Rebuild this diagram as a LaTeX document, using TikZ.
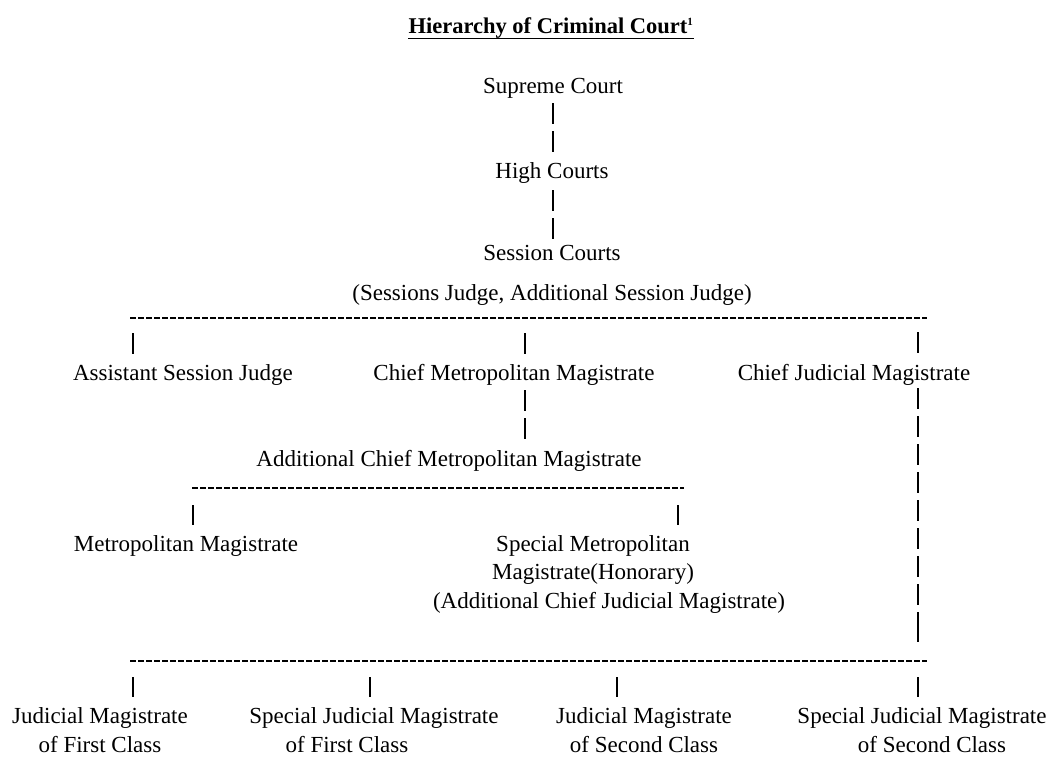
\documentclass[tikz,border=0pt]{standalone}
\usepackage{fontspec}
\setmainfont{Liberation Serif}
\begin{document}
\begin{tikzpicture}[x=1pt,y=-1pt,
  lbl/.style={font=\fontsize{23}{28.5}\selectfont, inner sep=0pt, anchor=base, align=center},
  ttl/.style={font=\fontsize{22.5}{27}\selectfont\bfseries, inner sep=0pt, anchor=base},
  bar/.style={line width=1.4pt, dash pattern=on 21pt off 7pt},
  hyph/.style={line width=1.2pt, dash pattern=on 5.5pt off 2.5pt},
]
\useasboundingbox (0,0) rectangle (1054,756);

% title
\node[ttl] (title) at (551,33) {Hierarchy of Criminal Court\textsuperscript{\fontsize{11}{11}\selectfont 1}};
\draw[line width=1.8pt] ([yshift=-5.5pt]title.base west) -- ([yshift=-5.5pt]title.base east);

% upper chain
\node[lbl] (sup) at (553,93) {Supreme Court};
\node[lbl] (hc) at (552,178) {High Courts};
\node[lbl] (sc) at (552,260) {Session Courts};
\node[lbl] (scj) at (552,300) {(Sessions Judge, Additional Session Judge)};

\coordinate (p1a) at (553,103); \coordinate (p1b) at (553,152);
\coordinate (p2a) at (553,190); \coordinate (p2b) at (553,239);
\draw[bar] (p1a) -- (p1b);
\draw[bar] (p2a) -- (p2b);

% first branch line
\coordinate (h1l) at (130,318); \coordinate (h1r) at (927,318);
\draw[hyph] (h1l) -- (h1r);

\node[lbl] (asj) at (183,380) {Assistant Session Judge};
\node[lbl] (cmm) at (514,380) {Chief Metropolitan Magistrate};
\node[lbl] (cjm) at (854,380) {Chief Judicial Magistrate};

\coordinate (t1a) at (133,333); \coordinate (t1b) at (133,355);
\coordinate (t2a) at (525,333); \coordinate (t2b) at (525,355);
\coordinate (t3a) at (918,332); \coordinate (t3b) at (918,354);
\draw[bar] (t1a) -- (t1b);
\draw[bar] (t2a) -- (t2b);
\draw[bar] (t3a) -- (t3b);

% CMM chain
\node[lbl] (acmm) at (449,466) {Additional Chief Metropolitan Magistrate};
\coordinate (c1a) at (525,390); \coordinate (c1b) at (525,440);
\draw[bar] (c1a) -- (c1b);

\coordinate (h2l) at (192,488); \coordinate (h2r) at (684,488);
\draw[hyph] (h2l) -- (h2r);
\coordinate (m1a) at (193,505); \coordinate (m1b) at (193,525);
\coordinate (m2a) at (678,505); \coordinate (m2b) at (678,525);
\draw[bar] (m1a) -- (m1b);
\draw[bar] (m2a) -- (m2b);

\node[lbl] (mm) at (186,551) {Metropolitan Magistrate};
\node[lbl] (smm) at (593,608) {Special Metropolitan\\Magistrate(Honorary)\\\hspace*{32pt}(Additional Chief Judicial Magistrate)};

% CJM long chain
\coordinate (r1a) at (918,388); \coordinate (r1b) at (918,633);
\coordinate (r2a) at (918,622); \coordinate (r2b) at (918,642);
\draw[bar] (r1a) -- (r1b);
\draw[line width=1.4pt] (r2a) -- (r2b);

% bottom branch line
\coordinate (h3l) at (130,661); \coordinate (h3r) at (927,661);
\draw[hyph] (h3l) -- (h3r);
\coordinate (b1a) at (133,677); \coordinate (b1b) at (133,697);
\coordinate (b2a) at (370,677); \coordinate (b2b) at (370,697);
\coordinate (b3a) at (617,677); \coordinate (b3b) at (617,697);
\coordinate (b4a) at (918,677); \coordinate (b4b) at (918,697);
\draw[bar] (b1a) -- (b1b);
\draw[bar] (b2a) -- (b2b);
\draw[bar] (b3a) -- (b3b);
\draw[bar] (b4a) -- (b4b);

\node[lbl] (jm1) at (100,752) {Judicial Magistrate\\of First Class};
\node[lbl] (sjm1) at (374,752) {Special Judicial Magistrate\\of First Class\hspace*{54pt}};
\node[lbl] (jm2) at (644,752) {Judicial Magistrate\\of Second Class};
\node[lbl] (sjm2) at (922,752) {Special Judicial Magistrate\\\hspace*{20pt}of Second Class};
\end{tikzpicture}
\end{document}
